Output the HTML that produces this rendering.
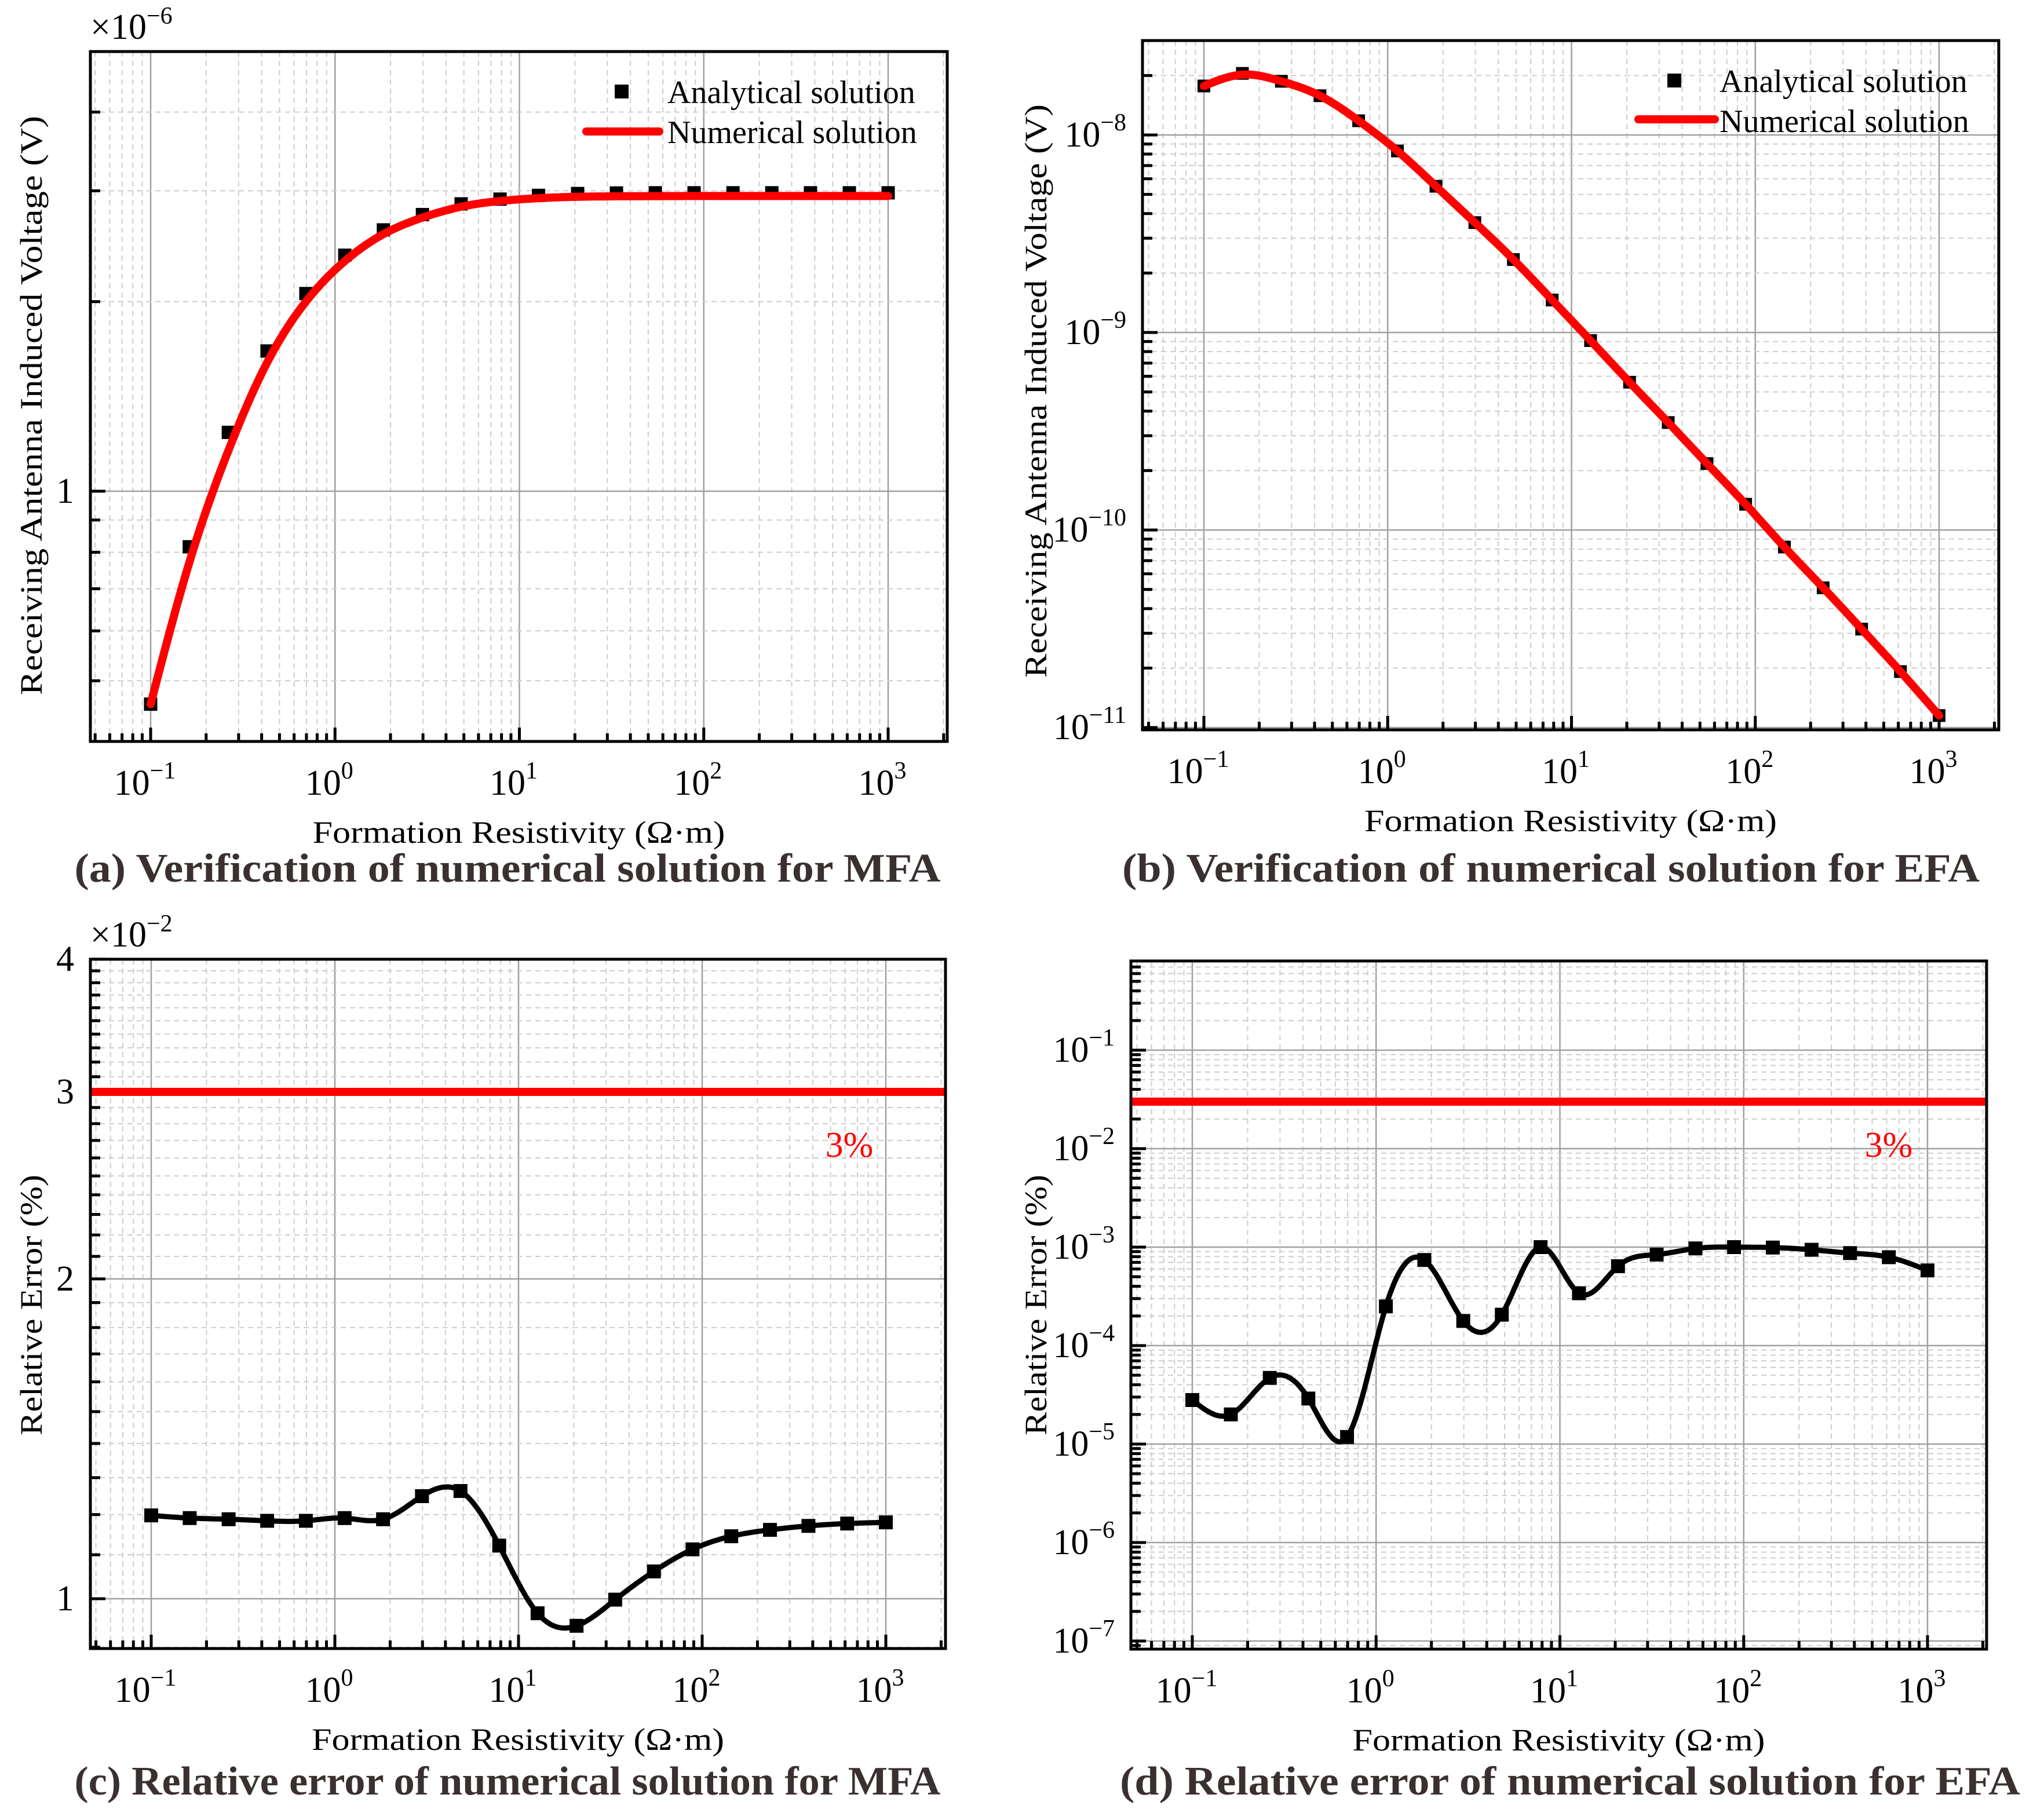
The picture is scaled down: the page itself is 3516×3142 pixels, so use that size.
<!DOCTYPE html>
<html><head><meta charset="utf-8"><style>
html,body{margin:0;padding:0;background:#fff}
svg{display:block}
text{font-family:"Liberation Serif",serif}
</style></head><body>
<svg id="fig" xmlns="http://www.w3.org/2000/svg" width="3516" height="3142" viewBox="0 0 3516 3142">
<rect x="0" y="0" width="3516" height="3142" fill="#fff"/>
</svg>
<script>
// ---- data ----
const xVals = [0.1,0.162,0.264,0.428,0.695,1.13,1.83,2.98,4.83,7.85,12.7,20.7,33.6,54.6,88.6,144,234,379,616,1000];
const aAnalytical = [0.459,0.816,1.24,1.67,2.06,2.37,2.60,2.75,2.86,2.91,2.95,2.97,2.976,2.978,2.978,2.978,2.978,2.978,2.978,2.978];
const aNumerical  = [0.459,0.77,1.16,1.60,2.00,2.32,2.56,2.72,2.83,2.89,2.92,2.935,2.94,2.942,2.943,2.943,2.943,2.943,2.943,2.943];
const bAnalytical = [1.77e-8,2.05e-8,1.87e-8,1.58e-8,1.18e-8,8.3e-9,5.5e-9,3.6e-9,2.34e-9,1.46e-9,9.1e-10,5.6e-10,3.5e-10,2.17e-10,1.35e-10,8.2e-11,5.1e-11,3.15e-11,1.92e-11,1.15e-11];
const bNumerical  = [1.77e-8,2.02e-8,1.87e-8,1.58e-8,1.18e-8,8.3e-9,5.5e-9,3.6e-9,2.34e-9,1.46e-9,9.1e-10,5.6e-10,3.5e-10,2.17e-10,1.35e-10,8.2e-11,5.1e-11,3.15e-11,1.92e-11,1.15e-11];
const cError = [1.198,1.191,1.188,1.184,1.184,1.191,1.188,1.249,1.263,1.122,0.969,0.943,0.998,1.061,1.113,1.145,1.161,1.171,1.177,1.180];
const dError = [2.8e-5,2.0e-5,4.7e-5,2.9e-5,1.18e-5,2.5e-4,7.4e-4,1.78e-4,2.06e-4,1.0e-3,3.4e-4,6.4e-4,8.4e-4,9.7e-4,1.0e-3,9.9e-4,9.4e-4,8.7e-4,7.9e-4,5.8e-4];
const cLimit = 3;
const dLimit = 0.03;
const xTickExps = [-1,0,1,2,3];
const aYLabels = [1];
const bYExps = [-8,-9,-10,-11];
const cYLabels = [1,2,3,4];
const dYExps = [-1,-2,-3,-4,-5,-6,-7];

const NS = "http://www.w3.org/2000/svg";
const fig = document.getElementById('fig');
function el(tag, attrs, parent){
  const e = document.createElementNS(NS, tag);
  for (const k in attrs) e.setAttribute(k, attrs[k]);
  (parent||fig).appendChild(e);
  return e;
}
const L = Math.log10;

function spline(X, Y){
  const n = X.length, h=[], al=[], l=[1], mu=[0], z=[0], c=new Array(n).fill(0), b=[], d=[];
  for(let i=0;i<n-1;i++) h[i]=X[i+1]-X[i];
  for(let i=1;i<n-1;i++) al[i]=3/h[i]*(Y[i+1]-Y[i])-3/h[i-1]*(Y[i]-Y[i-1]);
  for(let i=1;i<n-1;i++){ l[i]=2*(X[i+1]-X[i-1])-h[i-1]*mu[i-1]; mu[i]=h[i]/l[i]; z[i]=(al[i]-h[i-1]*z[i-1])/l[i]; }
  l[n-1]=1; z[n-1]=0;
  for(let j=n-2;j>=0;j--){ c[j]=z[j]-mu[j]*c[j+1]; b[j]=(Y[j+1]-Y[j])/h[j]-h[j]*(c[j+1]+2*c[j])/3; d[j]=(c[j+1]-c[j])/(3*h[j]); }
  const out=[];
  for(let i=0;i<n-1;i++){ for(let k=0;k<20;k++){ const t=h[i]*k/20; out.push([X[i]+t, Y[i]+b[i]*t+c[i]*t*t+d[i]*t*t*t]); } }
  out.push([X[n-1],Y[n-1]]);
  return out;
}

function makePanel(p){
  const g = el('g',{});
  
  
  const xp = v => p.x01 + (L(v)+1)*p.xdec;
  const yp = v => p.yref - (L(v)-L(p.yrefVal))*p.ydec;
  const cid = p.name+'-clip';
  const defs = el('defs',{},g);
  const cp = el('clipPath',{id:cid},defs);
  el('rect',{x:p.left,y:p.top,width:p.right-p.left,height:p.bottom-p.top},cp);
  const grid = el('g',{},g);
  
  
  for(let e=-2;e<=3;e++){
    for(let m=1;m<=9;m++){
      const x = xp(m*Math.pow(10,e));
      if(x<=p.left+2||x>=p.right-2) continue;
      if(m===1) el('line',{x1:x,y1:p.top,x2:x,y2:p.bottom,stroke:'#a0a0a0','stroke-width':2.5},grid);
      else el('line',{x1:x,y1:p.top,x2:x,y2:p.bottom,stroke:'#cdcdcd','stroke-width':2,'stroke-dasharray':'9 7'},grid);
      const tl = m===1?24:14;
      el('line',{x1:x,y1:p.bottom,x2:x,y2:p.bottom-tl,stroke:'#000','stroke-width':5},g);
    }
  }
  p.yMinor.forEach(v=>{ const y=yp(v); if(y<=p.top+1||y>=p.bottom-1) return;
    el('line',{x1:p.left,y1:y,x2:p.right,y2:y,stroke:'#cdcdcd','stroke-width':2,'stroke-dasharray':'9 7'},grid);
    el('line',{x1:p.left,y1:y,x2:p.left+17,y2:y,stroke:'#000','stroke-width':5},g);
  });
  p.yMajor.forEach(v=>{ const y=yp(v); if(y<p.top-1||y>p.bottom+1) return;
    el('line',{x1:p.left,y1:y,x2:p.right,y2:y,stroke:'#a0a0a0','stroke-width':2.5},grid);
    el('line',{x1:p.left,y1:y,x2:p.left+26,y2:y,stroke:'#000','stroke-width':5},g);
  });
  xTickExps.forEach(e=>{
    const t = el('text',{x:xp(Math.pow(10,e))-10,y:p.bottom+92,'font-size':62,'text-anchor':'middle',fill:'#000'},g);
    
    
    t.appendChild(document.createTextNode('10'));
    const s = el('tspan',{dy:-28,'font-size':42},t); s.textContent = e<0?'\u2212'+(-e):String(e);
  });
  p.yLabels.forEach(o=>{
    const y = yp(o.v);
    const t = el('text',{x:p.left-28,y:y+20,'font-size':62,'text-anchor':'end',fill:'#000'},g);
    
    
    if(o.exp!==undefined){ t.appendChild(document.createTextNode('10')); const s=el('tspan',{dy:-28,'font-size':42},t); s.textContent='\u2212'+(-o.exp); }
    else t.textContent = o.text;
  });
  if(p.mult){
    const t = el('text',{x:p.left,y:p.top-22,'font-size':62,fill:'#000'},g);
    
    
    t.appendChild(document.createTextNode('\u00d710'));
    const s=el('tspan',{dy:-26,'font-size':42},t); s.textContent=p.mult;
  }
  const series = el('g',{'clip-path':'url(#'+cid+')'},g);
  p.draw(series, xp, yp);
  const box = el('rect',{x:p.left,y:p.top,width:p.right-p.left,height:p.bottom-p.top,fill:'none',stroke:'#000','stroke-width':5},g);
  
  
  const xt = el('text',{x:(p.left+p.right)/2+p.xtOff,y:p.bottom+175,'font-size':54,'text-anchor':'middle',textLength:712,lengthAdjust:'spacingAndGlyphs'},g);
  
  
  xt.textContent='Formation Resistivity (\u03a9\u00b7m)';
  const yt = el('text',{x:0,y:0,'font-size':54,'text-anchor':'middle',textLength:p.ytLen,lengthAdjust:'spacingAndGlyphs',transform:'translate('+p.ytX+','+p.ytY+') rotate(-90)'},g);
  
  
  yt.textContent=p.ytitle;
  const cap = el('text',{x:p.capX,y:p.capY,'font-size':70,'font-weight':'bold','text-anchor':'middle',fill:'#3a3030',textLength:p.capW,lengthAdjust:'spacingAndGlyphs'},g);
  
  
  cap.textContent=p.caption;
}

function pathFrom(pts, xp, yp){
  return pts.map((q,i)=>(i?'L':'M')+xp(Math.pow(10,q[0])).toFixed(1)+','+yp(Math.pow(10,q[1])).toFixed(1)).join('');
}
function markers(parent, vals, xp, yp, size, name){
  vals.forEach((v,i)=>{
    const r = el('rect',{x:xp(xVals[i])-size/2,y:yp(v)-size/2,width:size,height:size,fill:'#000'},parent);
    
    
  });
}
function logRange(e0,e1,ms){ const o=[]; for(let e=e0;e<=e1;e++) ms.forEach(m=>o.push(m*Math.pow(10,e))); return o; }

makePanel({name:'panel-a', left:156, top:89, right:1635, bottom:1280, x01:260, xdec:318.25, yrefVal:1, yref:848, ydec:1087,
  yMajor:[1], yMinor:[0.5,0.6,0.7,0.8,0.9,2,3,4],
  yLabels: aYLabels.map(v=>({v:v,text:String(v)})), mult:'\u22126',
  xtOff:0, ytX:72, ytY:700, ytLen:1000, ytitle:'Receiving Antenna Induced Voltage (V)',
  capX:876, capY:1522, capW:1495, caption:'(a) Verification of numerical solution for MFA',
  draw:(g,xp,yp)=>{
    markers(g, aAnalytical, xp, yp, 23, 'analytical-marker');
    const pts = spline(xVals.map(L), aNumerical.map(L));
    const pth = el('path',{d:pathFrom(pts,xp,yp),fill:'none',stroke:'#ff0000','stroke-width':14,'stroke-linejoin':'round','stroke-linecap':'round'},g);
    
    
  }});
makePanel({name:'panel-b', left:1972, top:70, right:3450, bottom:1260, x01:2078, xdec:317.25, yrefVal:1e-8, yref:233, ydec:341,
  yMajor:[1e-8,1e-9,1e-10,1e-11], yMinor:logRange(-11,-8,[2,3,4,5,6,7,8,9]),
  yLabels: bYExps.map(e=>({v:Math.pow(10,e),exp:e})),
  xtOff:0, ytX:1806, ytY:675, ytLen:990, ytitle:'Receiving Antenna Induced Voltage (V)',
  capX:2677, capY:1522, capW:1480, caption:'(b) Verification of numerical solution for EFA',
  draw:(g,xp,yp)=>{
    markers(g, bAnalytical, xp, yp, 22, 'analytical-marker');
    const pts = spline(xVals.map(L), bNumerical.map(L));
    const pth = el('path',{d:pathFrom(pts,xp,yp),fill:'none',stroke:'#ff0000','stroke-width':14,'stroke-linejoin':'round','stroke-linecap':'round'},g);
    
    
  }});
const cMinor=[]; for(let k=9;k<=40;k++){ if(k%10) cMinor.push(k/10); }
makePanel({name:'panel-c', left:156, top:1656, right:1632, bottom:2846, x01:261, xdec:317, yrefVal:1, yref:2760, ydec:1834,
  yMajor:[1,2,3,4], yMinor:cMinor,
  yLabels: cYLabels.map(v=>({v:v,text:String(v)})), mult:'\u22122',
  xtOff:0, ytX:72, ytY:2253, ytLen:450, ytitle:'Relative Error (%)',
  capX:876, capY:3098, capW:1495, caption:'(c) Relative error of numerical solution for MFA',
  draw:(g,xp,yp)=>{
    const lim = el('line',{x1:156,y1:yp(cLimit),x2:1632,y2:yp(cLimit),stroke:'#ff0000','stroke-width':14},g);
    
    
    const pts = spline(xVals.map(L), cError.map(L));
    const pth = el('path',{d:pathFrom(pts,xp,yp),fill:'none',stroke:'#000','stroke-width':9,'stroke-linejoin':'round'},g);
    
    
    markers(g, cError, xp, yp, 24, 'error-marker');
  }});
makePanel({name:'panel-d', left:1952, top:1659, right:3429, bottom:2847, x01:2058, xdec:317.25, yrefVal:0.1, yref:1813, ydec:170,
  yMajor:dYExps.map(e=>Math.pow(10,e)), yMinor:logRange(-8,-1,[2,3,4,5,6,7,8,9]),
  yLabels: dYExps.map(e=>({v:Math.pow(10,e),exp:e})),
  xtOff:0, ytX:1806, ytY:2253, ytLen:450, ytitle:'Relative Error (%)',
  capX:2710, capY:3098, capW:1554, caption:'(d) Relative error of numerical solution for EFA',
  draw:(g,xp,yp)=>{
    const lim = el('line',{x1:1952,y1:yp(dLimit),x2:3429,y2:yp(dLimit),stroke:'#ff0000','stroke-width':14},g);
    
    
    const pts = spline(xVals.map(L), dError.map(L));
    const pth = el('path',{d:pathFrom(pts,xp,yp),fill:'none',stroke:'#000','stroke-width':9,'stroke-linejoin':'round'},g);
    
    
    markers(g, dError, xp, yp, 24, 'error-marker');
  }});

[[1466,1997],[3260,1997]].forEach(p=>{
  const t = el('text',{x:p[0],y:p[1],'font-size':62,'text-anchor':'middle',fill:'#ff0000'});
  
  
  t.textContent='3%';
});
function legend(mx,my,lx1,lx2,ly,tx,ty1,ty2){
  const g = el('g',{});
  
  
  el('rect',{x:mx-12,y:my-12,width:24,height:24,fill:'#000'},g);
  const t1 = el('text',{x:tx,y:ty1,'font-size':56},g);
  
  
  t1.textContent='Analytical solution';
  el('line',{x1:lx1,y1:ly,x2:lx2,y2:ly,stroke:'#ff0000','stroke-width':14,'stroke-linecap':'round'},g);
  const t2 = el('text',{x:tx,y:ty2,'font-size':56},g);
  
  
  t2.textContent='Numerical solution';
}
legend(1073,158,1012,1138,227,1152,178,247);
legend(2890,139,2828,2960,206,2968,159,228);
</script>
</body></html>
